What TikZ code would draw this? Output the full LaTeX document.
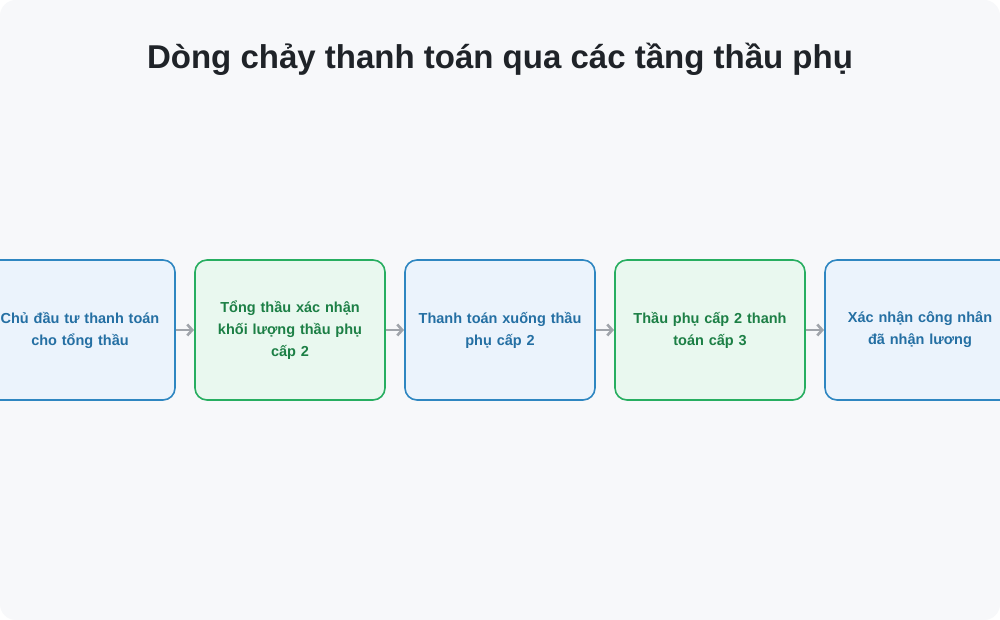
\documentclass[tikz,border=0pt]{standalone}
\usepackage{fontspec}
\setmainfont{Liberation Sans}
\usetikzlibrary{positioning}
\usetikzlibrary{arrows.meta}
\definecolor{bgpage}{HTML}{F7F8FA}
\definecolor{blueline}{HTML}{2E86C1}
\definecolor{bluefill}{HTML}{EBF3FC}
\definecolor{bluetext}{HTML}{246FA3}
\definecolor{greenline}{HTML}{27AE60}
\definecolor{greenfill}{HTML}{E9F8EF}
\definecolor{greentext}{HTML}{1C7F45}
\definecolor{arrowgray}{HTML}{A0A4AA}
\definecolor{titletext}{HTML}{1F2328}

\begin{document}
\begin{tikzpicture}[
x = 1bp, y = 1bp,
node distance = 20bp,
stepblue/.style = {shape = rectangle, rounded corners = 12bp, draw = blueline, fill = bluefill, line width = 1.6bp, outer sep = 0pt, minimum width = 190bp, minimum height = 140bp, text width = 172bp, align = center, text = bluetext, font = \bfseries\fontsize{14.5bp}{22bp}\selectfont, inner sep = 0pt},
stepgreen/.style = {stepblue, draw = greenline, fill = greenfill, text = greentext},
flow/.style = {draw = arrowgray, line width = 2.6bp, shorten <= 1bp, shorten >= 1bp, -{Straight Barb[length = 5bp, width = 11bp]}},
]
\useasboundingbox (0, 0) rectangle (1000, 620);
\fill[white] (0, 0) rectangle (1000, 620);
\fill[bgpage, rounded corners = 16bp] (0, 0) rectangle (1000, 620);
\clip[rounded corners = 16bp] (0, 0) rectangle (1000, 620);

\node[font = \bfseries\fontsize{33bp}{38bp}\selectfont, text = titletext] (title) at (500, 561) {Dòng chảy thanh toán qua các tầng thầu phụ};

\node[stepblue] (A) at (80, 290) {Chủ đầu tư thanh toán\\cho tổng thầu};
\node[stepgreen] (B) [right = of A] {Tổng thầu xác nhận\\khối lượng thầu phụ\\cấp 2};
\node[stepblue] (C) [right = of B] {Thanh toán xuống thầu\\phụ cấp 2};
\node[stepgreen] (D) [right = of C] {Thầu phụ cấp 2 thanh\\toán cấp 3};
\node[stepblue] (E) [right = of D] {Xác nhận công nhân\\đã nhận lương};

\path[flow] (A) edge (B);
\path[flow] (B) edge (C);
\path[flow] (C) edge (D);
\path[flow] (D) edge (E);
\end{tikzpicture}
\end{document}
